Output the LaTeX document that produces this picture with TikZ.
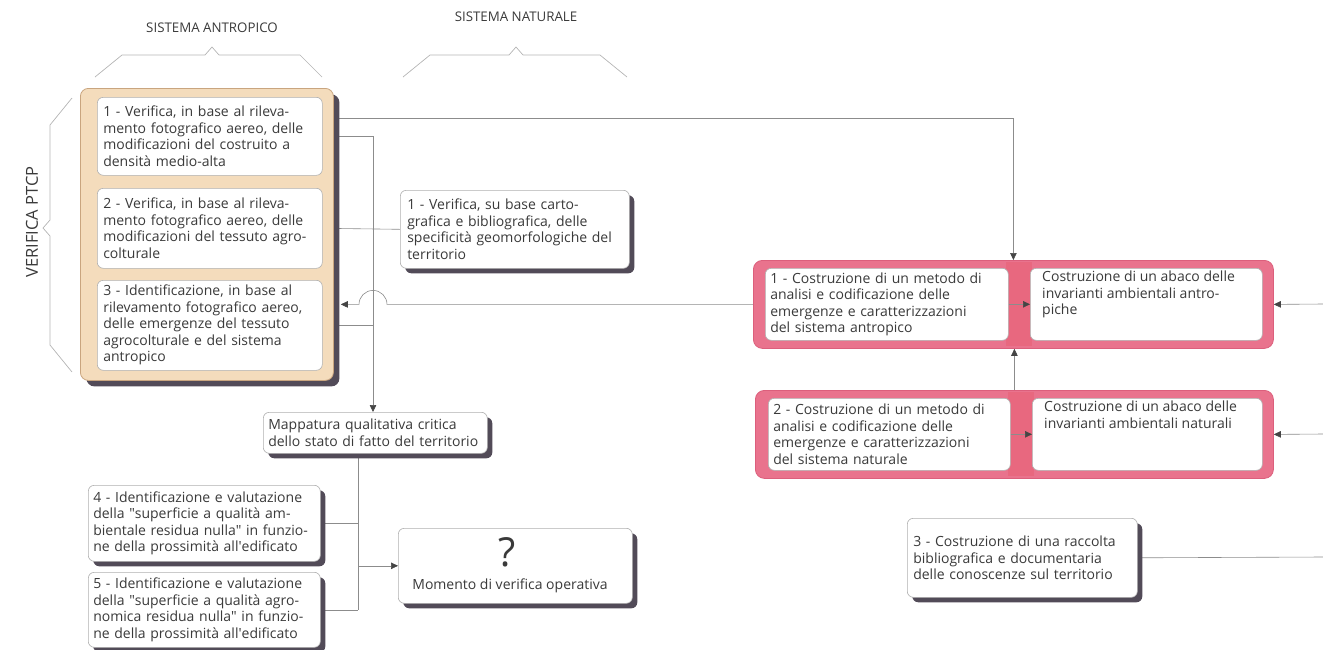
\documentclass[tikz,border=0pt]{standalone}
\usepackage{fontspec}
\setmainfont{Open Sans}
\newfontfamily\oqfont{Open Sans}
\usetikzlibrary{shadows,arrows.meta,backgrounds}
\definecolor{txtc}{HTML}{3A3A3A}
\definecolor{boxline}{HTML}{B0B0B0}
\definecolor{linec}{HTML}{8C8C8C}
\definecolor{tipc}{HTML}{454545}
\definecolor{shc}{HTML}{524B58}
\definecolor{tanf}{HTML}{F4DCBC}
\definecolor{tand}{HTML}{C9A57F}
\definecolor{pinkf}{HTML}{E9738D}
\definecolor{pinkd}{HTML}{DC5F7C}
\definecolor{pinks}{HTML}{E8687F}
\definecolor{bracec}{HTML}{B4B4B4}
\newcommand{\sq}{{\oqfont"}}
\newcommand{\ap}{{\oqfont'}}
\begin{document}
\begin{tikzpicture}[x=1pt,y=-1pt,
  wbox/.style={draw=boxline, fill=white, rounded corners=6pt, line width=0.6pt,
    align=left, anchor=north west, inner sep=0pt, text=txtc,
    font=\fontsize{14}{16.5}\selectfont},
  shbox/.style={wbox, drop shadow={shadow xshift=5pt, shadow yshift=-5pt, opacity=1, fill=shc}},
  tanbox/.style={draw=tand, fill=tanf, rounded corners=8pt, line width=0.8pt, anchor=north west,
    inner sep=0pt, drop shadow={shadow xshift=6pt, shadow yshift=-6pt, opacity=1, fill=shc}},
  pinkbox/.style={draw=pinkd, fill=pinkf, rounded corners=9pt, line width=0.8pt, anchor=north west, inner sep=0pt},
  plain/.style={text=txtc, font=\fontsize{14}{16.5}\selectfont, align=left, inner sep=0pt},
  hdr/.style={text=txtc, font=\fontsize{13.3}{15}\selectfont, inner sep=0pt},
  conn/.style={draw=linec, line width=0.6pt},
  arr/.style={conn, -{Triangle[length=7pt,width=6.5pt,color=tipc,fill=tipc]}},
  brace/.style={draw=bracec, line width=0.7pt}
]
\useasboundingbox (0,0) rectangle (1323,649);

% headers
\node[hdr] (h1) at (212,28) {SISTEMA ANTROPICO};
\node[hdr] (h2) at (516,17) {SISTEMA NATURALE};
\draw[brace] (95,77) -- (122,55) -- (205,55) -- (212,47) -- (219,55) -- (300,55) -- (322,77);
\draw[brace] (403,77) -- (430,55) -- (509,55) -- (516,47) -- (523,55) -- (600,55) -- (627,77);
\draw[brace] (72,98) -- (50,125) -- (50,220) -- (43,228) -- (50,236) -- (50,345) -- (72,372);
\node[hdr, rotate=90, font=\fontsize{16.5}{18}\selectfont] (vp) at (32,222) {VERIFICA PTCP};

% left column
\node[tanbox, minimum width=253pt, minimum height=292pt] (tan) at (80,88) {};
\node[wbox, minimum width=225pt, minimum height=78pt, text width=213pt] (a1) at (97,97)
  {1 - Verifica, in base al rileva-\\mento fotografico aereo, delle\\modificazioni del costruito a\\densità medio-alta};
\node[wbox, minimum width=225pt, minimum height=80pt, text width=213pt] (a2) at (97,188)
  {2 - Verifica, in base al rileva-\\mento fotografico aereo, delle\\modificazioni del tessuto agro-\\colturale};
\node[wbox, minimum width=225pt, minimum height=90pt, text width=213pt] (a3) at (97,280)
  {3 - Identificazione, in base al\\rilevamento fotografico aereo,\\delle emergenze del tessuto\\agrocolturale e del sistema\\antropico};

\node[shbox, minimum width=229pt, minimum height=78pt, text width=215pt] (n1) at (400,190)
  {1 - Verifica, su base carto-\\grafica e bibliografica, delle\\specificità geomorfologiche del\\territorio};

\node[shbox, minimum width=224pt, minimum height=41pt, text width=214pt] (mp) at (263,412)
  {Mappatura qualitativa critica\\dello stato di fatto del territorio};

\node[shbox, minimum width=232pt, minimum height=76pt, text width=222pt] (b4) at (88,485)
  {4 - Identificazione e valutazione\\della \sq superficie a qualità am-\\bientale residua nulla\sq{} in funzio-\\ne della prossimità all\ap edificato};
\node[shbox, minimum width=232pt, minimum height=75pt, text width=222pt] (b5) at (88,572)
  {5 - Identificazione e valutazione\\della \sq superficie a qualità agro-\\nomica residua nulla\sq{} in funzio-\\ne della prossimità all\ap edificato};

\node[shbox, minimum width=234pt, minimum height=75pt] (q) at (398,528) {};
\node[plain, anchor=base, font=\fontsize{40}{40}\selectfont] (qm) at (507,566) {?};
\node[plain, anchor=base] (qt) at (510,589) {Momento di verifica operativa};

% right column
\node[pinkbox, minimum width=520pt, minimum height=88pt] (pk1) at (753,260) {};
\fill[pinks] (1006,262) rectangle (1032,346);
\node[wbox, minimum width=243pt, minimum height=72pt, text width=233pt] (c1) at (765,268)
  {1 - Costruzione di un metodo di\\analisi e codificazione delle\\emergenze e caratterizzazioni\\del sistema antropico};
\node[wbox, minimum width=232pt, minimum height=72pt] (c2) at (1030,268) {};
\node[plain, anchor=north west] (c2t) at (1042,271)
  {Costruzione di un abaco delle\\invarianti ambientali antro-\\piche};

\node[pinkbox, minimum width=518pt, minimum height=88pt] (pk2) at (755,390) {};
\fill[pinks] (1008,392) rectangle (1034,476);
\node[wbox, minimum width=242pt, minimum height=72pt, text width=232pt] (c3) at (768,398)
  {2 - Costruzione di un metodo di\\analisi e codificazione delle\\emergenze e caratterizzazioni\\del sistema naturale};
\node[wbox, minimum width=230pt, minimum height=72pt] (c4) at (1032,398) {};
\node[plain, anchor=north west] (c4t) at (1044,401)
  {Costruzione di un abaco delle\\invarianti ambientali naturali};

\node[shbox, minimum width=230pt, minimum height=79pt, text width=218pt] (n3) at (907,518)
  {3 - Costruzione di una raccolta\\bibliografica e documentaria\\delle conoscenze sul territorio};

% coordinates
\coordinate (vx) at (373,0);
\coordinate (vy) at (358,0);
\coordinate (hopR) at (387,0);
\coordinate (r1) at (1323,304);
\coordinate (r2) at (1323,434);
\coordinate (r3) at (1323,557);

% connectors
\begin{scope}[on background layer]
\draw[arr] ([yshift=18pt]a1.east) -| (pk1.north);
\draw[arr] (a1.east) -| (vx |- mp.north);
\draw[conn] (a2.east) -- (n1.west);
\draw[conn] (a3.east) -- (a3.east -| vx);
\draw[conn] (vy |- mp.south) -- (vy |- b5.east);
\draw[conn] (b4.east) -- (b4.east -| vy);
\draw[conn] (b5.east) -- (b5.east -| vy);
\draw[conn] (n3.east) -- (r3);
\end{scope}
\draw[arr] (pk1.west) -- (pk1.west -| hopR) arc[start angle=0, end angle=180, radius=14pt] -- ([xshift=7pt]pk1.west -| tan.east);
\draw[arr] (q.west -| vy) -- (q.west);
\draw[arr] (c1.east) -- (c2.west);
\draw[arr] (c3.east) -- (c4.west);
\draw[arr] (pk2.north) -- (pk2.north |- pk1.south);
\draw[arr] (r1) -- (pk1.east);
\draw[arr] (r2) -- (pk2.east);
\end{tikzpicture}
\end{document}
